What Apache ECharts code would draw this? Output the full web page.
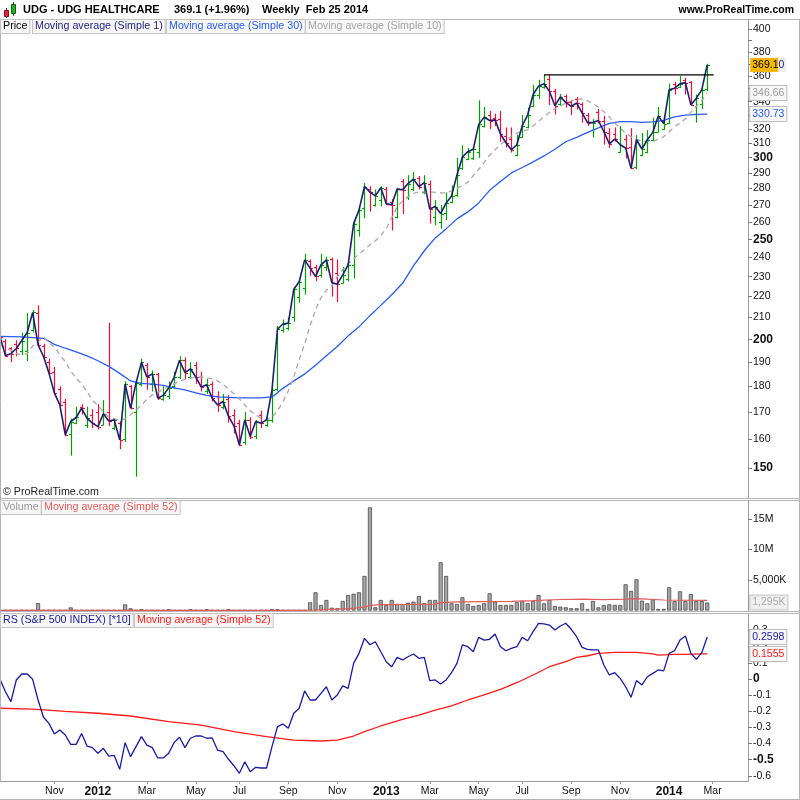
<!DOCTYPE html>
<html>
<head>
<meta charset="utf-8">
<title>UDG - UDG HEALTHCARE weekly</title>
<script src="https://cdn.jsdelivr.net/npm/echarts@6.0.0/dist/echarts.min.js"></script>
<style>
html,body{margin:0;padding:0;background:#ffffff;}
#chart{width:800px;height:800px;}
</style>
</head>
<body>
<div id="chart"></div>
<script>
// ===================== DATA (weekly bars, index 0 = week of 29 Aug 2011) =====================
const opens = [203,199,196,198,195,195,204,212,197,190,186,179,174,162,166,172,165,169,170,165,
170,164,166,160,180,170,181,189,181,185,175,176,180,184,191,184,189,184,178,181,
176,172,175,169,166,159,167,161,169,165,167,179,204,205,210,220,224,238,235,231,
235,239,232,227,229,236,255,268,280,270,273,280,272,263,285,275,280,287,278,283,
263,260,265,272,276,293,299,300,304,322,330,328,327,315,313,302,314,321,337,345,
351,358,348,338,344,340,342,338,330,319,332,326,317,316,304,313,307,294,302,304,
312,318,320,324,354,351,357,355,331,338,350];
const highs = [205,200,196.5,199.5,203,212,213.5,215.7,198,191.5,188,180,175,167.5,172,173,172,171,173,174.5,
207.5,167.5,166.5,182,180.5,182,191.5,189.6,186.5,185.5,180,182,186,192.5,192,190,190,186,183,182,
178,177,176.5,171,167,170,168,167,170.5,168,180,206,209,210,224.5,228.5,242,239,236,242,
240.5,240,239,235,237,261,268.5,283.5,281.5,279.5,281.5,281,273.5,280.5,286,288.5,290.5,288,288.5,285,
273,270,277.6,282,300,308.5,306.5,307.5,341,336,333,331,333,321,321,316,330,335.5,353,357,
361,361.5,350,346,345.5,341,343.5,339.5,331.5,327,334.5,329.5,320.5,321,322,315.5,320.5,315.5,317,319,
328,336,330,354,355.5,360,358.5,356,345.5,350,370];
const lows = [198,192.3,190,192.5,193,190.5,203,197,191.5,184.8,177,172.3,161,154.2,165.5,169,164,164,163.5,165,
164.7,163.3,156.4,159,171,147.1,180,178.6,178,174.6,174.3,175,179,183,183,183,181,178,177,174,
170,171,166,162,157.5,158,160,160,164,164.5,166,178,203,204,208,217,221,230.4,227.6,229.5,
233,220,217.2,226.5,227.6,229,251.6,262,266,269,269,270,255,262,264.5,273,278.6,279.5,276.5,259,
258,256,261,271,275,292,298.5,298.5,300,321,320,322,311,307,303.5,301,313.5,320.5,336,342,
350,337.5,330.5,337,335.5,330,334,324.5,322,314,324,309,306.6,311,303.5,299.5,292.5,292.4,301,303,
311.5,317.5,319.5,323.5,345.5,350.5,345.5,337,324.5,334.5,348];
const closes = [201.2,192.8,193.6,195.9,199.4,203.0,212.3,197.5,192.4,185.4,177.3,172.7,161.5,166.4,167.9,171.4,167.6,165.8,164.5,169.3,
166.6,167.0,159.7,181.0,171.4,181.3,189.9,183.8,185.1,175.3,176.4,179.3,183.7,190.8,185.6,187.2,183.8,179.7,180.6,175.3,
172.7,174.0,168.4,164.8,157.9,167.0,160.9,166.4,165.8,167.0,178.6,204.5,206.9,207.3,223.6,227.4,238.8,234.4,230.1,236.1,
238.8,226.9,226.2,230.9,236.1,258.8,267.0,281.3,277.8,275.5,280.5,270.7,270.0,279.8,279.2,283.2,286.0,281.3,283.8,267.5,
269.0,264.8,271.0,275.4,288.7,300.5,304.1,305.8,323.2,328.5,326.0,326.5,316.3,310.2,305.4,308.8,322.1,330.2,345.5,352.0,
353.9,348.1,336.9,343.7,339.5,336.5,339.0,331.6,324.5,324.5,326.0,318.1,309.5,312.8,308.8,306.6,293.0,312.3,305.9,312.3,
317.5,329.4,323.8,349.1,350.4,353.8,354.8,337.6,342.7,349.1,369.1];
// Moving average (Simple 10), read per bar
const ma10 = [197.5,196.2,195.3,193.6,193.2,193.6,197.0,198.8,201.1,198.3,196.6,193.2,190.2,186.4,183.2,181.0,177.8,174.6,172.5,170.0,
168.1,167.4,167.0,167.4,168.9,170.8,172.5,175.0,176.6,177.6,178.8,179.8,181.0,182.2,182.8,183.4,183.6,183.8,183.5,183.0,
182.2,180.8,179.0,177.0,175.0,172.7,170.4,168.9,167.6,167.0,168.1,170.4,173.8,178.2,183.8,191.0,197.9,206.1,213.6,219.4,
223.1,225.3,229.9,233.5,236.7,239.3,242.0,244.2,247.0,249.2,252.0,256.0,262.3,268.8,272.4,274.9,277.1,278.0,278.0,278.0,
277.7,277.4,277.4,278.6,280.3,281.8,284.0,288.2,292.2,296.9,301.7,305.4,308.8,312.0,314.8,316.9,318.3,319.3,322.2,325.4,
328.7,332.0,334.6,336.9,338.8,340.7,341.9,341.9,340.7,338.8,335.8,332.4,328.7,324.2,320.6,316.9,314.4,312.7,311.3,311.2,
311.2,312.7,314.4,317.9,321.5,324.2,327.2,332.0,336.5,340.7,346.66];
// Moving average (Simple 30), read as [bar index, value]
const ma30 = [[0,201.3],[4,201.0],[8,200.4],[10,197.7],[12,196.0],[14,194.4],[16,192.7],[18,190.6],[20,188.2],[22,185.3],
[24,182.2],[26,181.2],[28,180.9],[30,180.4],[32,179.4],[34,178.6],[36,177.4],[38,176.4],[40,175.8],[42,175.6],
[44,175.4],[46,175.4],[48,175.4],[50,175.8],[51,177.4],[52,179.2],[54,182.2],[56,185.0],[58,188.7],[60,192.7],
[62,196.8],[64,201.5],[66,205.6],[68,210.8],[70,215.7],[72,220.9],[74,226.6],[76,235.6],[78,243.7],[80,250.8],
[82,255.9],[84,261.7],[86,265.8],[88,271.2],[90,278.9],[92,284.5],[94,290.0],[96,293.5],[98,297.2],[100,301.2],
[102,305.7],[104,310.9],[106,314.0],[108,317.5],[110,320.7],[112,324.0],[114,325.2],[116,325.2],[118,324.6],[120,325.0],
[122,326.1],[124,328.6],[126,330.0],[128,330.5],[130,330.73]];
// hand-drawn resistance line
const resistance = [[100,361],[131.2,361]];
// Volume, millions
const volumes = [0.06,0.06,0.06,0.06,0.06,0.06,0.06,1.2,0.06,0.06,
0.06,0.06,0.06,0.5,0.06,0.06,0.06,0.06,0.06,0.06,
0.06,0.06,0.06,1.0,0.35,0.06,0.2,0.06,0.06,0.06,
0.06,0.2,0.06,0.06,0.06,0.2,0.06,0.06,0.2,0.06,
0.06,0.06,0.2,0.06,0.06,0.06,0.06,0.06,0.06,0.06,
0.2,0.2,0.06,0.06,0.06,0.06,0.06,
1.34,2.98,0.90,1.72,0.46,0.36,1.56,2.54,2.75,2.98,5.66,16.9,
0.52,1.72,0.90,1.72,1.07,1.07,1.28,1.44,2.38,1.18,1.72,1.72,
7.90,5.66,1.18,1.07,2.16,1.07,0.74,0.90,1.18,2.82,1.44,0.90,
0.90,0.90,1.34,1.56,1.18,1.56,2.54,1.18,1.72,0.74,0.62,0.52,
0.36,0.36,1.18,0.20,1.56,0.52,0.90,1.01,0.90,0.90,4.29,3.20,
5.11,1.61,1.18,1.83,0.25,0.25,3.80,1.56,3.15,1.56,2.70,1.56,
1.56,1.295];
const volMa52 = [[0,0.03],[56,0.03],[58,0.08],[60,0.15],[62,0.22],[64,0.32],[66,0.45],[67,0.55],[68,0.85],[70,0.95],
[75,0.98],[80,1.05],[81,1.3],[84,1.4],[89,1.45],[94,1.5],[98,1.62],[103,1.8],[107,1.85],[111,1.78],
[115,1.85],[117,1.95],[119,1.85],[122,1.72],[126,1.68],[130,1.66]];
// RS vs S&P 500 (*10)
const rs = [-0.002,-0.079,-0.140,-0.006,0.031,0.031,-0.002,-0.130,-0.237,-0.275,
-0.341,-0.316,-0.347,-0.405,-0.405,-0.337,-0.415,-0.425,-0.460,-0.429,
-0.477,-0.473,-0.559,-0.394,-0.481,-0.419,-0.357,-0.409,-0.425,-0.489,
-0.489,-0.460,-0.394,-0.361,-0.425,-0.367,-0.353,-0.353,-0.367,-0.365,
-0.440,-0.450,-0.497,-0.537,-0.584,-0.512,-0.574,-0.547,-0.551,-0.551,
-0.419,-0.295,-0.279,-0.305,-0.212,-0.181,-0.074,-0.130,-0.130,-0.089,
-0.048,-0.130,-0.099,-0.043,-0.058,0.097,0.159,0.252,0.212,0.231,
0.169,0.107,0.076,0.134,0.118,0.138,0.155,0.128,0.134,-0.010,
-0.006,-0.031,-0.006,0.039,0.097,0.211,0.200,0.169,0.258,0.241,
0.246,0.279,0.200,0.175,0.190,0.200,0.258,0.237,0.293,0.345,
0.341,0.334,0.303,0.328,0.345,0.308,0.262,0.196,0.184,0.180,
0.180,0.087,0.025,0.039,0.004,-0.048,-0.113,-0.010,-0.037,0.014,
0.035,0.056,0.050,0.159,0.175,0.241,0.266,0.159,0.122,0.163,
0.2598];
const rsMa52 = [[0,-0.181],[6,-0.187],[12,-0.201],[18,-0.212],[24,-0.229],[31,-0.264],[37,-0.285],[43,-0.326],[49,-0.357],[54,-0.378],
[59,-0.384],[62,-0.378],[65,-0.353],[67,-0.326],[70,-0.291],[74,-0.250],[77,-0.223],[80,-0.192],[83,-0.167],[86,-0.130],
[89,-0.099],[92,-0.064],[95,-0.023],[98,0.025],[101,0.076],[104,0.107],[106,0.134],[108,0.144],[110,0.159],[113,0.165],
[117,0.165],[120,0.155],[121,0.148],[124,0.152],[126,0.152],[129,0.155],[130,0.1555]];
// Tick labels
const monthTicks = [[10,'Nov'],[18,'2012'],[27,'Mar'],[36,'May'],[44,'Jul'],[53,'Sep'],[62,'Nov'],[71,'2013'],
[79,'Mar'],[88,'May'],[96,'Jul'],[105,'Sep'],[114,'Nov'],[123,'2014'],[131,'Mar']];
const priceTicks = [150,160,170,180,190,200,210,220,230,240,250,260,270,280,290,300,310,320,330,340,350,360,370,380,390,400];
const priceLabels = [150,160,170,180,190,200,210,220,230,240,250,260,270,280,290,300,310,320,340,360,380,400];
const priceBold = [150,200,250,300];
const volTickLabels = [[5,'5,000K'],[10,'10M'],[15,'15M']];
const rsTicks = [-0.6,-0.5,-0.4,-0.3,-0.2,-0.1,0,0.1,0.2,0.3];
const rsBold = [0,-0.5];

// ===================== CHART =====================
const FONT = '"Liberation Sans", Arial, Helvetica, sans-serif';
const GREEN = '#00a000', RED = '#f0103c', NAVY = '#1e1e70', BLUE = '#2b5cf2', GREY = '#a8a8a8';
const chart = echarts.init(document.getElementById('chart'), null, {renderer: 'canvas', width: 800, height: 800});

const ohlc = closes.map((c, i) => [i, opens[i], highs[i], lows[i], c]);
const monthMap = new Map(monthTicks);
const volMap = new Map(volTickLabels);

function renderOHLC(params, api) {
  const i = api.value(0), o = api.value(1), h = api.value(2), l = api.value(3), c = api.value(4);
  const pH = api.coord([i, h]), pL = api.coord([i, l]), pO = api.coord([i, o]), pC = api.coord([i, c]);
  const x = Math.round(pH[0]) + 0.5;
  const col = c >= o ? GREEN : RED;
  const yO = Math.round(pO[1]) + 0.5, yC = Math.round(pC[1]) + 0.5;
  const st = {stroke: col, lineWidth: 1.2};
  return {type: 'group', children: [
    {type: 'line', shape: {x1: x, y1: pH[1], x2: x, y2: pL[1]}, style: st},
    {type: 'line', shape: {x1: x - 2.5, y1: yO, x2: x, y2: yO}, style: st},
    {type: 'line', shape: {x1: x, y1: yC, x2: x + 2.5, y2: yC}, style: st}
  ]};
}

function tag(color, fmt, extra) {
  return Object.assign({
    show: true, distance: 0, offset: [43, 0],
    formatter: fmt, color: color, fontFamily: FONT, fontSize: 10.5,
    backgroundColor: '#f7f7f7', borderColor: '#bdbdbd', borderWidth: 1, padding: [2, 2, 1, 2]
  }, extra || {});
}

function legendItem(x, y, text, color) {
  return {type: 'text', x: x, y: y, z: 100,
    style: {text: text, fill: color, font: '10.7px ' + FONT, backgroundColor: '#f7f7f7',
      borderColor: '#c4c4c4', borderWidth: 1, padding: [1, 2, 1, 2]}};
}
function hline(y, x1, x2, color) {
  return {type: 'line', z: 50, shape: {x1: x1, y1: y, x2: x2, y2: y}, style: {stroke: color || '#b4b4b4', lineWidth: 1}};
}
function vline(x, y1, y2, color) {
  return {type: 'line', z: 50, shape: {x1: x, y1: y1, x2: x, y2: y2}, style: {stroke: color || '#b4b4b4', lineWidth: 1}};
}

const axisLabelBase = {fontFamily: FONT, fontSize: 10.5, color: '#111'};
const gridBase = {left: 0, width: 748, containLabel: false, outerBoundsMode: 'none'};

const xAxes = [0, 1, 2].map(g => ({
  type: 'value', gridIndex: g, min: 0, max: 137.5,
  axisLine: {show: g === 2, onZero: false, lineStyle: {color: '#9a9a9a'}},
  axisTick: {show: g === 2, customValues: monthTicks.map(t => t[0]), length: 3, lineStyle: {color: '#9a9a9a'}},
  splitLine: {show: false},
  axisLabel: g === 2 ? Object.assign({}, axisLabelBase, {
    show: true, customValues: monthTicks.map(t => t[0]), margin: 5,
    formatter: v => { const s = monthMap.get(v) || ''; return /^\d{4}$/.test(s) ? '{y|' + s + '}' : s; },
    rich: {y: {fontFamily: FONT, fontSize: 12, fontWeight: 'bold', color: '#111'}}
  }) : {show: false}
}));

const yAxes = [
  {
    type: 'log', logBase: 10, gridIndex: 0, position: 'right', min: 140.26, max: 408.1,
    axisLine: {show: true, onZero: false, lineStyle: {color: '#9a9a9a'}},
    axisTick: {show: true, customValues: priceTicks, length: 4, lineStyle: {color: '#777'}},
    splitLine: {show: false},
    axisLabel: Object.assign({}, axisLabelBase, {
      customValues: priceLabels, margin: 5,
      formatter: v => { const r = Math.round(v); return priceBold.indexOf(r) >= 0 ? '{b|' + r + '}' : String(r); },
      rich: {b: {fontFamily: FONT, fontSize: 12, fontWeight: 'bold', color: '#111'}}
    })
  },
  {
    type: 'value', gridIndex: 1, position: 'right', min: 0, max: 17.95,
    axisLine: {show: true, onZero: false, lineStyle: {color: '#9a9a9a'}},
    axisTick: {show: true, customValues: volTickLabels.map(t => t[0]), length: 4, lineStyle: {color: '#777'}},
    splitLine: {show: false},
    axisLabel: Object.assign({}, axisLabelBase, {
      customValues: volTickLabels.map(t => t[0]), margin: 5,
      formatter: v => volMap.get(v) || ''
    })
  },
  {
    type: 'value', gridIndex: 2, position: 'right', min: -0.6316, max: 0.4025,
    axisLine: {show: true, onZero: false, lineStyle: {color: '#9a9a9a'}},
    axisTick: {show: true, customValues: rsTicks, length: 4, lineStyle: {color: '#777'}},
    splitLine: {show: false},
    axisLabel: Object.assign({}, axisLabelBase, {
      customValues: rsTicks, margin: 5,
      formatter: v => { const r = Math.round(v * 10) / 10; const s = r === 0 ? '0' : String(r);
        return rsBold.indexOf(r) >= 0 ? '{b|' + s + '}' : s; },
      rich: {b: {fontFamily: FONT, fontSize: 12, fontWeight: 'bold', color: '#111'}}
    })
  }
];

const fmtK = v => { const k = Math.round(v * 1000); return k.toLocaleString('en-US') + 'K'; };
const lastVol = volumes.length - 1;

const option = {
  animation: false,
  backgroundColor: '#ffffff',
  textStyle: {fontFamily: FONT},
  grid: [
    Object.assign({}, gridBase, {top: 20, height: 478}),
    Object.assign({}, gridBase, {top: 501, height: 109.5}),
    Object.assign({}, gridBase, {top: 614, height: 167})
  ],
  xAxis: xAxes,
  yAxis: yAxes,
  series: [
    {type: 'custom', name: 'Price', xAxisIndex: 0, yAxisIndex: 0, data: ohlc, renderItem: renderOHLC,
     encode: {x: 0, y: [1, 2, 3, 4]}, clip: true, z: 2, silent: true},
    {type: 'line', name: 'MA30', xAxisIndex: 0, yAxisIndex: 0, data: ma30, showSymbol: false, symbol: 'none', z: 3,
     lineStyle: {color: BLUE, width: 1.3}, silent: true,
     endLabel: tag(BLUE, p => p.value[1].toFixed(2))},
    {type: 'line', name: 'MA10', xAxisIndex: 0, yAxisIndex: 0, data: ma10.map((v, i) => [i, v]), showSymbol: false, symbol: 'none', z: 3,
     lineStyle: {color: GREY, width: 1.3, type: [5, 4]}, silent: true,
     endLabel: tag('#9a9a9a', p => p.value[1].toFixed(2))},
    {type: 'line', name: 'Close', xAxisIndex: 0, yAxisIndex: 0, data: closes.map((v, i) => [i, v]), showSymbol: false, symbol: 'none', z: 4,
     lineStyle: {color: NAVY, width: 1.6}, silent: true,
     endLabel: tag('#000', p => { const s = p.value[1].toFixed(2); return '{a|' + s.slice(0, -1) + '}{b|' + s.slice(-1) + '}'; },
       {backgroundColor: 'transparent', borderWidth: 0, padding: 0,
        rich: {a: {backgroundColor: '#f5b800', color: '#000', fontFamily: FONT, fontSize: 10.5, padding: [2, 0, 1, 2]},
               b: {backgroundColor: '#eeeeee', color: NAVY, fontFamily: FONT, fontSize: 10.5, padding: [2, 2, 1, 0]}}})},
    {type: 'line', name: 'Resistance', xAxisIndex: 0, yAxisIndex: 0, data: resistance, showSymbol: false, symbol: 'none', z: 5,
     lineStyle: {color: '#000', width: 1.2}, silent: true},
    {type: 'bar', name: 'Volume', xAxisIndex: 1, yAxisIndex: 1, data: volumes.map((v, i) => [i, v]), barWidth: 4, z: 2,
     itemStyle: {color: '#a6a6a6', borderColor: '#3a3a3a', borderWidth: 0.7}, silent: true},
    {type: 'line', name: 'VolMA52', xAxisIndex: 1, yAxisIndex: 1, data: volMa52, showSymbol: false, symbol: 'none', z: 3,
     lineStyle: {color: '#e35b5b', width: 1.2}, silent: true},
    {type: 'scatter', name: 'VolTag', xAxisIndex: 1, yAxisIndex: 1, data: [[lastVol, volumes[lastVol]]],
     symbol: 'rect', symbolSize: 2, itemStyle: {color: 'rgba(0,0,0,0)'}, z: 6, silent: true, clip: false,
     label: {show: true, position: 'right', distance: 42, formatter: p => fmtK(p.value[1]), color: '#9a9a9a',
       fontFamily: FONT, fontSize: 10.5, backgroundColor: '#eeeeee', borderColor: '#bdbdbd', borderWidth: 1, padding: [2, 2, 1, 2]}},
    {type: 'line', name: 'RS', xAxisIndex: 2, yAxisIndex: 2, data: rs.map((v, i) => [i, v]), showSymbol: false, symbol: 'none', z: 4,
     lineStyle: {color: '#1a1aa0', width: 1.3}, silent: true,
     endLabel: tag('#1a1aa0', p => p.value[1].toFixed(4))},
    {type: 'line', name: 'RSMA52', xAxisIndex: 2, yAxisIndex: 2, data: rsMa52, showSymbol: false, symbol: 'none', z: 3,
     lineStyle: {color: '#ff1a1a', width: 1.3}, silent: true,
     endLabel: tag('#ff1a1a', p => p.value[1].toFixed(4))}
  ],
  graphic: [
    // header icon
    {type: 'line', z: 100, shape: {x1: 6.5, y1: 8, x2: 6.5, y2: 18}, style: {stroke: '#7a1010', lineWidth: 1}},
    {type: 'rect', z: 101, shape: {x: 4.5, y: 10.5, width: 4, height: 6}, style: {fill: '#e8203c', stroke: '#8a1020', lineWidth: 1}},
    {type: 'line', z: 100, shape: {x1: 13.5, y1: 2, x2: 13.5, y2: 16}, style: {stroke: '#106010', lineWidth: 1}},
    {type: 'rect', z: 101, shape: {x: 11.5, y: 4.5, width: 4, height: 9}, style: {fill: '#22b022', stroke: '#106010', lineWidth: 1}},
    // header texts
    {type: 'text', z: 100, x: 23, y: 10, style: {text: 'UDG - UDG HEALTHCARE', font: 'bold 11px ' + FONT, fill: '#000', verticalAlign: 'middle'}},
    {type: 'text', z: 100, x: 174, y: 10, style: {text: '369.1 (+1.96%)', font: 'bold 11px ' + FONT, fill: '#000', verticalAlign: 'middle'}},
    {type: 'text', z: 100, x: 262, y: 10, style: {text: 'Weekly  Feb 25 2014', font: 'bold 11px ' + FONT, fill: '#000', verticalAlign: 'middle'}},
    {type: 'text', z: 100, x: 794, y: 10, style: {text: 'www.ProRealTime.com', font: 'bold 10.5px ' + FONT, fill: '#000', align: 'right', verticalAlign: 'middle'}},
    // frame lines
    hline(19.5, 0, 800),
    hline(498.5, 0, 800),
    hline(500.5, 0, 800),
    hline(611.5, 0, 800),
    hline(613.5, 0, 800),
    hline(799.5, 0, 800),
    vline(0.5, 20, 781),
    vline(799.5, 20, 800),
    // legends
    legendItem(1, 20, 'Price', '#000'),
    legendItem(33, 20, 'Moving average (Simple 1)', '#1e1e80'),
    legendItem(167, 20, 'Moving average (Simple 30)', BLUE),
    legendItem(306, 20, 'Moving average (Simple 10)', '#a4a4a4'),
    legendItem(1, 501, 'Volume', '#9a9a9a'),
    legendItem(42, 501, 'Moving average (Simple 52)', '#e35b5b'),
    legendItem(1, 614, 'RS (S&P 500 INDEX) [*10]', '#1a1aa0'),
    legendItem(135, 614, 'Moving average (Simple 52)', '#ff1a1a'),
    // copyright
    {type: 'text', z: 100, x: 3, y: 492, style: {text: '\u00a9 ProRealTime.com', font: '10.7px ' + FONT, fill: '#222', verticalAlign: 'middle'}}
  ]
};
chart.setOption(option);
</script>
</body>
</html>
